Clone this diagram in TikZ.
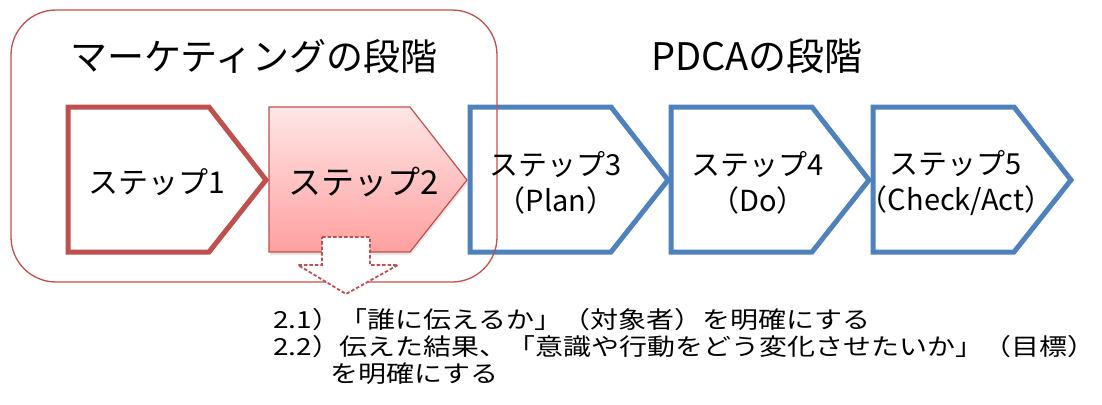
\documentclass[tikz,border=0pt]{standalone}
\usepackage{fontspec}
\setmainfont{Noto Sans CJK JP}
\newfontfamily\widejp[FakeStretch=1.19]{Noto Sans CJK JP}
\usepackage{tikz}
\usetikzlibrary{shadows}
\definecolor{mkred}{HTML}{C0504D}
\definecolor{pdblue}{HTML}{4F81BD}
\definecolor{pinktop}{HTML}{FFE6E6}
\definecolor{pinkbot}{HTML}{FFA0A0}
\tikzset{
  redstep/.style={draw=mkred,line width=5pt,line join=miter},
  bluestep/.style={draw=pdblue,line width=5pt,line join=miter},
  hotstep/.style={draw=mkred,line width=1.2pt,line join=miter,top color=pinktop,bottom color=pinkbot,
    drop shadow={opacity=0.2,shadow xshift=1pt,shadow yshift=-3pt}},
  phase/.style={draw=mkred,line width=1.3pt,rounded corners=45pt},
  outarrow/.style={draw=mkred,line width=1.8pt,fill=white,dash pattern=on 3.5pt off 2pt,line join=miter},
  title/.style={font=\fontsize{37}{40}\selectfont,inner sep=0pt},
  steptext/.style={font=\fontsize{29}{36}\selectfont,inner sep=0pt,align=center},
  note/.style={font=\widejp\fontsize{23.5}{27}\selectfont,inner sep=0pt,anchor=west}
}
\begin{document}
\begin{tikzpicture}[x=1pt,y=-1pt]
 \useasboundingbox (0,0) rectangle (1102,404);

 % steps
 \draw[redstep] (68,107) -- (209,107) -- (266,180) -- (209,252) -- (68,252) -- cycle;
 \draw[hotstep] (269,107) -- (410,107) -- (467,180) -- (410,252) -- (269,252) -- cycle;
 \draw[bluestep] (470,107) -- (611,107) -- (668,180) -- (611,252) -- (470,252) -- cycle;
 \draw[bluestep] (671,107) -- (812,107) -- (869,180) -- (812,252) -- (671,252) -- cycle;
 \draw[bluestep] (873,107) -- (1014,107) -- (1071,180) -- (1014,252) -- (873,252) -- cycle;

 % marketing phase
 \draw[phase] (11,10) rectangle (497,282);

 \draw[outarrow] (322,237) -- (370,237) -- (370,265) -- (398,265) -- (346,294)
   -- (298,265) -- (322,265) -- cycle;

 \node[title] (mk) at (254,56) {マーケティングの段階};
 \node[title,font=\fontsize{38}{40}\selectfont] (pdca) at (757,56) {PDCAの段階};

 \node[steptext,font=\fontsize{30}{36}\selectfont] (t1) at (157,182) {ステップ1};
 \node[steptext,font=\fontsize{33}{36}\selectfont] (t2) at (364,182) {ステップ2};
 \node[steptext] (t3) at (556,183) {ステップ3\\（Plan）};
 \node[steptext] (t4) at (758,183) {ステップ4\\（Do）};
 \node[steptext] (t5) at (956,183) {ステップ5\\（Check/Act）};

 \node[note] (n1) at (273,320) {2.1）「誰に伝えるか」（対象者）を明確にする};
 \node[note] (n2) at (273,347) {2.2）伝えた結果、「意識や行動をどう変化させたいか」（目標）};
 \node[note] (n3) at (330,374) {を明確にする};
\end{tikzpicture}
\end{document}
